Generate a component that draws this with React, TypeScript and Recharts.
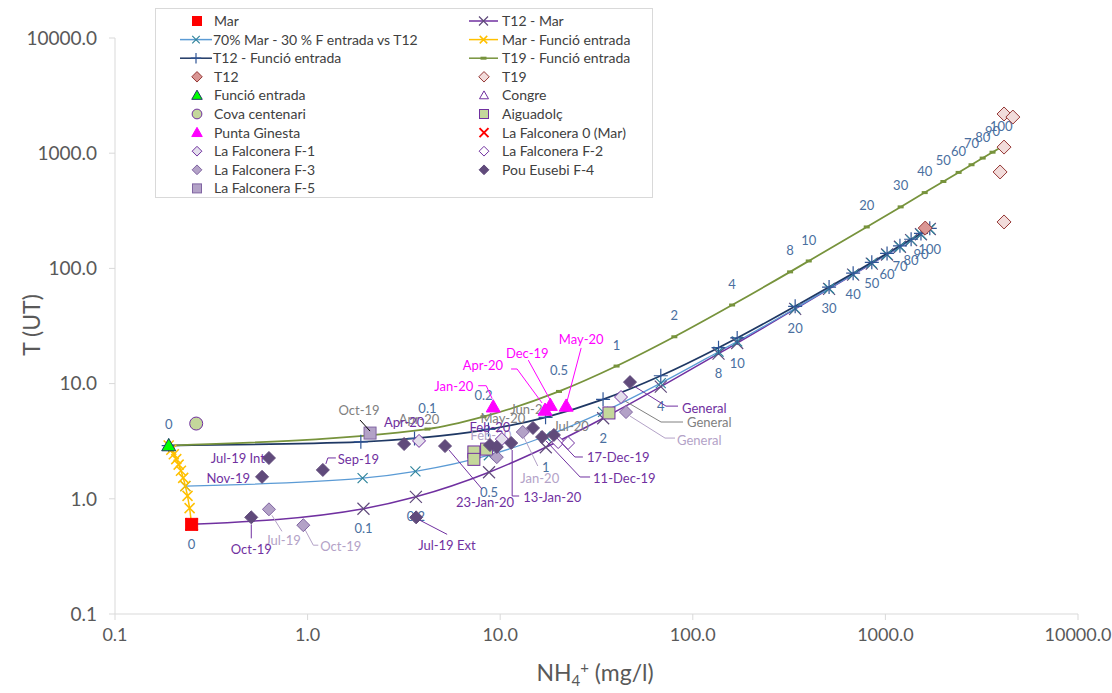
import React from 'react';
import { ComposedChart, Line, Scatter, XAxis, YAxis, Customized } from 'recharts';

const FONT = 'Lato, "Open Sans", sans-serif';

// ---------------- data ----------------
const xTicks = [0.1, 1, 10, 100, 1000, 10000];
const yTicks = [0.1, 1, 10, 100, 1000, 10000];

// mixing percentages (labels of the mixing lines)
const mixPct = ['0', '0.1', '0.2', '0.5', '1', '2', '4', '8', '10', '20', '30', '40', '50', '60', '70', '80', '90', '100'];

const t12MarX = [0.25, 1.95, 3.65, 8.75, 17.25, 34.25, 68.2, 136, 170, 340, 510, 680, 850, 1020, 1190, 1360, 1530, 1700];
const t12MarY = [0.6, 0.82, 1.04, 1.7, 2.8, 5.0, 9.4, 18.2, 22.5, 44.5, 66.4, 88.4, 110, 132, 154, 176, 198, 220];

const mix70X = [0.232, 1.93, 3.63, 8.73, 17.2, 34.2, 68.2, 136, 170, 340, 510, 680, 850, 1020, 1190, 1360, 1530, 1700];
const mix70Y = [1.29, 1.51, 1.73, 2.39, 3.49, 5.68, 10.1, 18.9, 23.2, 45, 66.9, 88.8, 111, 132, 154, 176, 198, 220];

const t12FX = [0.19, 1.89, 3.59, 8.69, 17.2, 34.2, 68.2, 136, 170, 340, 510, 680, 850, 1020, 1190, 1360, 1530, 1700];
const t12FY = [2.9, 3.12, 3.34, 4.0, 5.1, 7.3, 11.7, 20.5, 24.9, 46.9, 68.9, 90.9, 113, 135, 157, 179, 201, 223];

const t19FX = [0.19, 4.19, 8.19, 20.2, 40.2, 80.2, 160, 320, 400, 800, 1200, 1600, 2000, 2400, 2800, 3200, 3600, 4000];
const t19FY = [2.9, 4.03, 5.16, 8.55, 14.2, 25.5, 48.1, 93.3, 116, 229, 342, 455, 568, 681, 794, 907, 1020, 1133];

const marFX = [0.19, 0.196, 0.202, 0.208, 0.214, 0.22, 0.226, 0.232, 0.238, 0.244, 0.25];
const marFY = [2.9, 2.67, 2.44, 2.21, 1.98, 1.75, 1.52, 1.29, 1.06, 0.83, 0.6];

const marX = [0.25];
const marY = [0.6];
const funcioX = [0.19];
const funcioY = [2.9];
const covaX = [0.264];
const covaY = [4.5];
const t12X = [1610];
const t12Y = [224];
const t19X = [4130, 4590, 4130, 3940, 4130];
const t19Y = [2190, 2060, 1130, 687, 253];
const aiguaX = [7.3, 7.3, 8.5, 36.7];
const aiguaY = [2.55, 2.2, 2.7, 5.56];
const puntaX = [9.2, 17.1, 18.2, 22];
const puntaY = [6.3, 5.9, 6.5, 6.4];
const puntaLabels = ['Jan-20', 'Apr-20', 'Dec-19', 'May-20'];
const falc0X = [0.25];
const falc0Y = [0.6];
const f1X = [3.79, 10.2, 42.4];
const f1Y = [3.18, 3.3, 7.65];
const f1Labels = ['Apr-20', 'May-20', 'General'];
const f2X = [20, 22.5];
const f2Y = [3.11, 3.05];
const f2Labels = ['Jun-20', 'Jul-20'];
const f3X = [0.63, 0.95, 13.1, 9.6, 45];
const f3Y = [0.81, 0.59, 3.8, 2.3, 5.66];
const f3Labels = ['Jul-19', 'Oct-19', 'Jan-20', 'Feb-20', 'General'];
const f4X = [0.63, 0.58, 1.2, 0.51, 3.66, 3.17, 5.17, 8.85, 9.6, 11.4, 14.8, 16.5, 19.0, 47.2];
const f4Y = [2.26, 1.55, 1.78, 0.69, 0.69, 2.99, 2.87, 2.93, 2.82, 3.05, 4.12, 3.44, 3.58, 10.3];
const f4Labels = ['Jul-19 Int', 'Nov-19', 'Sep-19', 'Oct-19', 'Jul-19 Ext', 'Apr-20', '23-Jan-20', 'Feb-20', '', '13-Jan-20', '', '11-Dec-19', '17-Dec-19', 'General'];
const f5X = [2.11];
const f5Y = [3.72];
const f5Labels = ['Oct-19'];

type Pt = { x: number; y: number; label: string };
const zip = (xs: number[], ys: number[], labels?: string[]): Pt[] =>
  xs.map((x, i) => ({ x, y: ys[i], label: labels ? labels[i] : '' }));

// ---------------- styles / layout ----------------
type MS = { kind: string; fill?: string; stroke?: string; size?: number; sw?: number };
type LL = { dx: number; dy: number; anchor?: 'start' | 'middle' | 'end'; leader?: number[][]; leaderColor?: string };

const C_LABEL = '#4a6fa0';
const C_F4 = '#7030a0';
const C_F3 = '#b3a2c7';
const C_GREY = '#808080';
const C_MAG = '#ff00ff';

const mT12Mar: MS = { kind: 'x', stroke: '#604a7b', size: 6, sw: 1.2 };
const m70: MS = { kind: 'x', stroke: '#31859c', size: 5, sw: 1.2 };
const mT12F: MS = { kind: 'plus', stroke: '#2f5597', size: 7, sw: 1.2 };
const mT19F: MS = { kind: 'dash', fill: '#77933c' };
const mMarF: MS = { kind: 'x', stroke: '#ffc000', size: 5, sw: 1.5 };
const mMar: MS = { kind: 'square', fill: '#ff0000', stroke: '#ff0000', size: 6 };
const mFuncio: MS = { kind: 'triangle', fill: '#00ff00', stroke: '#1f3864', size: 7 };
const mCova: MS = { kind: 'circle', fill: '#c4d79b', stroke: '#7030a0', size: 6.5 };
const mT12: MS = { kind: 'diamond', fill: '#da9694', stroke: '#953735', size: 7 };
const mT19: MS = { kind: 'diamond', fill: '#f2dcdb', stroke: '#953735', size: 7 };
const mCongre: MS = { kind: 'triangle', fill: '#ffffff', stroke: '#7030a0', size: 6 };
const mAigua: MS = { kind: 'square', fill: '#c4d79b', stroke: '#7030a0', size: 6 };
const mPunta: MS = { kind: 'triangle', fill: '#ff00ff', stroke: '#ff00ff', size: 7 };
const mFalc0: MS = { kind: 'x', stroke: '#ff0000', size: 6, sw: 2 };
const mF1: MS = { kind: 'diamond', fill: '#e4dfec', stroke: '#7030a0', size: 6.5 };
const mF2: MS = { kind: 'diamond', fill: '#ffffff', stroke: '#7030a0', size: 6.5 };
const mF3: MS = { kind: 'diamond', fill: '#b3a2c7', stroke: '#8064a2', size: 6.5 };
const mF4: MS = { kind: 'diamond', fill: '#604a7b', stroke: '#604a7b', size: 6.5 };
const mF5: MS = { kind: 'square', fill: '#b3a2c7', stroke: '#8064a2', size: 6 };

const belowLayout: LL = { dx: 0, dy: 20 };
const aboveLayout: LL = { dx: 0, dy: -21 };

const f4Layout: Record<string, LL> = {
  'Jul-19 Int': { dx: -4, dy: 0, anchor: 'end' },
  'Nov-19': { dx: -12, dy: 2, anchor: 'end' },
  'Sep-19': { dx: 15, dy: -11, anchor: 'start', leader: [[3, -6], [5, -12], [13, -12]] },
  'Oct-19': { dx: 0, dy: 32, anchor: 'middle', leader: [[0, 7], [0, 21]] },
  'Jul-19 Ext': { dx: 2, dy: 28, anchor: 'start', leader: [[4, 3], [31, 17]] },
  'Apr-20': { dx: 0, dy: -22, anchor: 'middle' },
  '23-Jan-20': { dx: 11, dy: 56, anchor: 'start', leader: [[4, 4], [37, 43]] },
  'Feb-20': { dx: 0, dy: -18, anchor: 'middle' },
  '13-Jan-20': { dx: 12, dy: 54, anchor: 'start', leader: [[1, 7], [1, 53], [8, 53]] },
  '11-Dec-19': { dx: 51, dy: 41, anchor: 'start', leader: [[4, 4], [38, 40], [48, 40]] },
  '17-Dec-19': { dx: 33, dy: 22, anchor: 'start', leader: [[3, 3], [21, 22], [29, 22]] },
  General: { dx: 52, dy: 26, anchor: 'start', leader: [[4, 4], [36, 24], [48, 24]] },
};
const f3Layout: Record<string, LL> = {
  'Jul-19': { dx: 14, dy: 31, anchor: 'middle', leader: [[3, 6], [13, 22]] },
  'Oct-19': { dx: 17, dy: 21, anchor: 'start', leader: [[2, 5], [10, 20], [15, 20]] },
  'Jan-20': { dx: 17, dy: 46, anchor: 'middle', leader: [[1, 5], [15, 34]] },
  'Feb-20': { dx: -6, dy: -22, anchor: 'middle' },
  General: { dx: 51, dy: 28, anchor: 'start', leader: [[4, 4], [39, 26], [49, 26]] },
};
const f1Layout: Record<string, LL> = {
  'Apr-20': { dx: 0, dy: -21, anchor: 'middle' },
  'May-20': { dx: 1, dy: -21, anchor: 'middle' },
  General: { dx: 66, dy: 25, anchor: 'start', leader: [[4, 4], [40, 25], [62, 25]] },
};
const f2Layout: Record<string, LL> = {
  'Jun-20': { dx: -28, dy: -33, anchor: 'middle' },
  'Jul-20': { dx: 3, dy: -17, anchor: 'middle' },
};
const f5Layout: Record<string, LL> = {
  'Oct-19': { dx: -11, dy: -23, anchor: 'middle', leader: [[0, -2], [-10, -13]], leaderColor: '#000000' },
};
const puntaLayout: Record<string, LL> = {
  'Jan-20': { dx: -20, dy: -20, anchor: 'end', leader: [[-1, -8], [-7, -21], [-15, -21]] },
  'Apr-20': { dx: -42, dy: -45, anchor: 'end', leader: [[-3, -7], [-28, -41], [-34, -41]] },
  'Dec-19': { dx: -23, dy: -52, anchor: 'middle', leader: [[0, -5], [-22, -45]] },
  'May-20': { dx: 15, dy: -66, anchor: 'middle', leader: [[1, -5], [15, -58]] },
};

// ---------------- rendering helpers ----------------
function renderMark(m: MS, cx: number, cy: number) {
  const s = m.size ?? 6;
  const sw = m.sw ?? 1;
  switch (m.kind) {
    case 'square':
      return <rect x={cx - s} y={cy - s} width={2 * s} height={2 * s} fill={m.fill} stroke={m.stroke} strokeWidth={sw} />;
    case 'diamond':
      return <polygon points={`${cx},${cy - s} ${cx + s},${cy} ${cx},${cy + s} ${cx - s},${cy}`} fill={m.fill} stroke={m.stroke} strokeWidth={sw} />;
    case 'triangle':
      return <polygon points={`${cx},${cy - s} ${cx + s},${cy + s * 0.75} ${cx - s},${cy + s * 0.75}`} fill={m.fill} stroke={m.stroke} strokeWidth={sw} />;
    case 'circle':
      return <circle cx={cx} cy={cy} r={s} fill={m.fill} stroke={m.stroke} strokeWidth={sw} />;
    case 'x':
      return <path d={`M${cx - s},${cy - s}L${cx + s},${cy + s}M${cx - s},${cy + s}L${cx + s},${cy - s}`} stroke={m.stroke} strokeWidth={sw} fill="none" />;
    case 'plus':
      return <path d={`M${cx - s},${cy}L${cx + s},${cy}M${cx},${cy - s}L${cx},${cy + s}`} stroke={m.stroke} strokeWidth={sw} fill="none" />;
    case 'dash':
      return <rect x={cx - 3} y={cy - 1.5} width={6} height={3} fill={m.fill} />;
    default:
      return null;
  }
}

function renderLabel(text: string, l: LL, cx: number, cy: number, color: string) {
  const pts = l.leader ? l.leader.map(([a, b]) => `${cx + a},${cy + b}`).join(' ') : null;
  return (
    <g>
      {pts && <polyline points={pts} fill="none" stroke={l.leaderColor ?? color} strokeWidth={1} />}
      <text x={cx + l.dx} y={cy + l.dy} dy="0.35em" textAnchor={l.anchor ?? 'middle'} fill={color} fontSize={13} fontFamily={FONT}>
        {text}
      </text>
    </g>
  );
}

const pointShape = (m: MS, layout?: Record<string, LL>, color?: string) => (props: any) => {
  const { cx, cy, payload } = props;
  if (cx == null || cy == null || isNaN(cx) || isNaN(cy)) return <g />;
  const lab: string = payload && payload.label ? payload.label : '';
  const l = layout && lab ? layout[lab] : undefined;
  return (
    <g>
      {renderMark(m, cx, cy)}
      {l && renderLabel(lab, l, cx, cy, color ?? '#000')}
    </g>
  );
};

const lineDot = (m: MS, layout?: LL, color?: string) => (props: any) => {
  const { cx, cy, payload, index } = props;
  if (cx == null || cy == null || isNaN(cx) || isNaN(cy)) return <g key={`e-${index}`} />;
  const lab: string = payload && payload.label ? payload.label : '';
  return (
    <g key={`d-${index}`}>
      {renderMark(m, cx, cy)}
      {layout && lab && renderLabel(lab, layout, cx, cy, color ?? '#000')}
    </g>
  );
};

const Titles = () => (
  <g fontFamily={FONT} fill="#595959">
    <text x={32} y={325} transform="rotate(-90 32 325)" textAnchor="middle" dy="0.35em" fontSize={23}>T (UT)</text>
    <text x={595} y={673} textAnchor="middle" dy="0.35em" fontSize={23}>
      NH<tspan dy={5} fontSize={15}>4</tspan>
      <tspan dy={-13} fontSize={15}>+</tspan>
      <tspan dy={8}> (mg/l)</tspan>
    </text>
  </g>
);

// ---------------- legend ----------------
type LegItem = { name: string; mark: MS; line?: string };
const legendCol1: LegItem[] = [
  { name: 'Mar', mark: mMar },
  { name: '70% Mar - 30 % F entrada vs T12', mark: m70, line: '#5b9bd5' },
  { name: 'T12 - Funció entrada', mark: mT12F, line: '#1f3864' },
  { name: 'T12', mark: mT12 },
  { name: 'Funció entrada', mark: mFuncio },
  { name: 'Cova centenari', mark: mCova },
  { name: 'Punta Ginesta', mark: mPunta },
  { name: 'La Falconera F-1', mark: mF1 },
  { name: 'La Falconera F-3', mark: mF3 },
  { name: 'La Falconera F-5', mark: mF5 },
];
const legendCol2: LegItem[] = [
  { name: 'T12 - Mar', mark: mT12Mar, line: '#7030a0' },
  { name: 'Mar - Funció entrada', mark: mMarF, line: '#ffc000' },
  { name: 'T19 - Funció entrada', mark: mT19F, line: '#77933c' },
  { name: 'T19', mark: mT19 },
  { name: 'Congre', mark: mCongre },
  { name: 'Aiguadolç', mark: mAigua },
  { name: 'La Falconera 0 (Mar)', mark: mFalc0 },
  { name: 'La Falconera F-2', mark: mF2 },
  { name: 'Pou Eusebi F-4', mark: mF4 },
];

function shrink(m: MS): MS {
  return { ...m, size: (m.size ?? 6) * 0.75 };
}

function LegendBox() {
  const rowY = (i: number) => 13 + i * 18.6;
  const renderCol = (items: LegItem[], lineX0: number, lineX1: number, markX: number, textX: number, lineText: number) =>
    items.map((it, i) => {
      const y = rowY(i);
      return (
        <g key={it.name}>
          {it.line && <line x1={lineX0} x2={lineX1} y1={y} y2={y} stroke={it.line} strokeWidth={1.5} />}
          {renderMark(shrink(it.mark), it.line ? (lineX0 + lineX1) / 2 : markX, y)}
          <text x={it.line ? lineText : textX} y={y} dy="0.35em" fontSize={14} fill="#404040" fontFamily={FONT}>
            {it.name}
          </text>
        </g>
      );
    });
  return (
    <svg width={498} height={190} style={{ position: 'absolute', left: 155, top: 8 }}>
      <rect x={0.5} y={0.5} width={497} height={189} fill="#ffffff" stroke="#d9d9d9" />
      {renderCol(legendCol1, 25, 57, 42, 59, 58)}
      {renderCol(legendCol2, 314, 343, 329, 347, 347)}
    </svg>
  );
}

// ---------------- chart ----------------
export default function App() {
  const xTickStyle = { fill: '#595959', fontSize: 18, fontFamily: FONT };
  const yTickStyle = { fill: '#595959', fontSize: 19, fontFamily: FONT };
  return (
    <div style={{ position: 'absolute', left: 0, top: 0, width: 1112, height: 693, overflow: 'hidden', background: '#fff' }}>
      <ComposedChart width={1112} height={693} margin={{ top: 38, right: 34, bottom: 8, left: 0 }}>
        <XAxis
          type="number"
          dataKey="x"
          scale="log"
          domain={[0.1, 10000]}
          ticks={xTicks}
          allowDataOverflow
          tickFormatter={(v: number) => v.toFixed(1)}
          stroke="#d9d9d9"
          tick={xTickStyle}
          tickSize={6}
          tickMargin={8}
          height={71}
        />
        <YAxis
          type="number"
          dataKey="y"
          scale="log"
          domain={[0.1, 10000]}
          ticks={yTicks}
          allowDataOverflow
          tickFormatter={(v: number) => v.toFixed(1)}
          stroke="#d9d9d9"
          tick={yTickStyle}
          tickSize={6}
          tickMargin={12}
          width={115}
        />
        <Line data={zip(t12MarX, t12MarY, mixPct)} dataKey="y" type="monotoneX" stroke="#7030a0" strokeWidth={1.5} dot={lineDot(mT12Mar, belowLayout, C_LABEL)} isAnimationActive={false} />
        <Line data={zip(mix70X, mix70Y)} dataKey="y" type="monotoneX" stroke="#5b9bd5" strokeWidth={1.25} dot={lineDot(m70)} isAnimationActive={false} />
        <Line data={zip(t12FX, t12FY)} dataKey="y" type="monotoneX" stroke="#1f3864" strokeWidth={1.75} dot={lineDot(mT12F)} isAnimationActive={false} />
        <Line data={zip(t19FX, t19FY, mixPct)} dataKey="y" type="monotoneX" stroke="#77933c" strokeWidth={1.75} dot={lineDot(mT19F, aboveLayout, C_LABEL)} isAnimationActive={false} />
        <Line data={zip(marFX, marFY)} dataKey="y" type="linear" stroke="#ffc000" strokeWidth={1.5} dot={lineDot(mMarF)} isAnimationActive={false} />

        <Scatter data={zip(falc0X, falc0Y)} shape={pointShape(mFalc0)} isAnimationActive={false} />
        <Scatter data={zip(marX, marY)} shape={pointShape(mMar)} isAnimationActive={false} />
        <Scatter data={zip(funcioX, funcioY)} shape={pointShape(mFuncio)} isAnimationActive={false} />
        <Scatter data={zip(covaX, covaY)} shape={pointShape(mCova)} isAnimationActive={false} />
        <Scatter data={zip(t19X, t19Y)} shape={pointShape(mT19)} isAnimationActive={false} />
        <Scatter data={zip(t12X, t12Y)} shape={pointShape(mT12)} isAnimationActive={false} />
        <Scatter data={zip(f5X, f5Y, f5Labels)} shape={pointShape(mF5, f5Layout, C_GREY)} isAnimationActive={false} />
        <Scatter data={zip(aiguaX, aiguaY)} shape={pointShape(mAigua)} isAnimationActive={false} />
        <Scatter data={zip(f3X, f3Y, f3Labels)} shape={pointShape(mF3, f3Layout, C_F3)} isAnimationActive={false} />
        <Scatter data={zip(f1X, f1Y, f1Labels)} shape={pointShape(mF1, f1Layout, C_GREY)} isAnimationActive={false} />
        <Scatter data={zip(f2X, f2Y, f2Labels)} shape={pointShape(mF2, f2Layout, C_GREY)} isAnimationActive={false} />
        <Scatter data={zip(f4X, f4Y, f4Labels)} shape={pointShape(mF4, f4Layout, C_F4)} isAnimationActive={false} />
        <Scatter data={zip(puntaX, puntaY, puntaLabels)} shape={pointShape(mPunta, puntaLayout, C_MAG)} isAnimationActive={false} />
        <Customized component={Titles} />
      </ComposedChart>
      <LegendBox />
    </div>
  );
}
